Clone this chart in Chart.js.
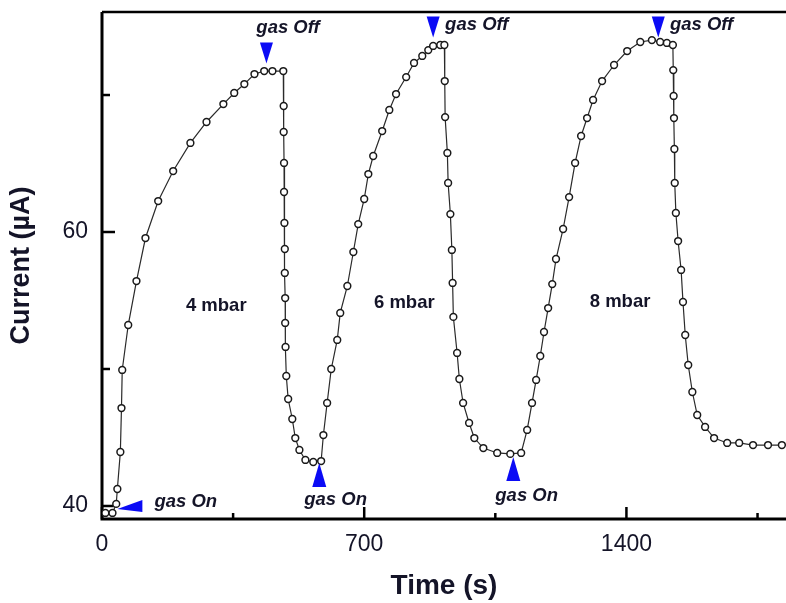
<!DOCTYPE html>
<html>
<head>
<meta charset="utf-8">
<script src="https://cdn.jsdelivr.net/npm/chart.js@4.4.1/dist/chart.umd.min.js"></script>
<style>
	html, body { margin: 0; padding: 0; background: #fff; overflow: hidden; }
	#wrap { width: 786px; height: 603px; }
	canvas { display: block; }
</style>
</head>
<body>
<div id="wrap"><canvas id="chart" width="786" height="603"></canvas></div>
<script>
// Time (s) and current (uA), three gas pulses
const timeValues = [
	9, 28, 38, 41, 49, 52, 54, 70, 92, 116, 150, 190, 236, 279, 324, 353, 380, 407, 433, 455, 484,
	485, 485, 486, 486, 487, 488, 488, 489, 489, 490, 492, 497, 508, 516, 527, 543, 564, 585,
	591, 601, 612, 628, 636, 655, 671, 684, 700, 711, 724, 748, 767, 785, 812, 833, 855, 871, 884, 903, 914,
	915, 916, 922, 924, 930, 934, 936, 938, 948, 954, 964, 980, 994, 1018, 1055, 1090, 1119,
	1135, 1148, 1159, 1170, 1180, 1191, 1202, 1212, 1231, 1247, 1263, 1279, 1295, 1311, 1335, 1367, 1402, 1437, 1468, 1490, 1508, 1524,
	1525, 1526, 1527, 1528, 1529, 1532, 1538, 1546, 1551, 1557, 1565, 1576, 1589, 1610, 1634, 1669, 1701, 1738, 1778, 1815,
];
const currentValues = [
	39.49, 39.49, 40.15, 41.24, 43.94, 47.15, 49.93, 53.21, 56.42, 59.56, 62.26, 64.45, 66.5, 68.03, 69.34, 70.15, 70.8, 71.53, 71.75, 71.75, 71.75,
	69.2, 67.3, 65.04, 62.92, 60.66, 58.76, 57.01, 55.18, 53.36, 51.61, 49.49, 47.81, 46.35, 44.96, 44.09, 43.36, 43.21, 43.28,
	45.18, 47.52, 50.0, 52.12, 54.09, 56.06, 58.54, 60.58, 62.41, 64.23, 65.55, 67.37, 68.91, 70.07, 71.31, 72.34, 72.85, 73.28, 73.58, 73.65, 73.65,
	71.02, 68.39, 65.77, 63.58, 61.31, 58.69, 56.28, 53.8, 51.17, 49.27, 47.52, 46.06, 44.96, 44.23, 43.87, 43.8, 43.87,
	45.55, 47.52, 49.2, 50.95, 52.7, 54.45, 56.2, 58.03, 60.22, 62.55, 65.04, 67.01, 68.32, 69.64, 71.02, 72.19, 73.21, 73.87, 74.01, 73.87, 73.8, 73.65,
	71.82, 69.93, 68.32, 66.06, 63.58, 61.39, 59.34, 57.23, 54.89, 52.48, 50.29, 48.32, 46.64, 45.77, 44.96, 44.6, 44.6, 44.45, 44.45, 44.45,
];

const xTicks = [0, 350, 700, 1050, 1400, 1750];
const xTickLabels = ["0", "", "700", "", "1400", ""];
const yTicks = [40, 50, 60, 70];
const yTickLabels = ["40", "", "60", ""];

// Annotations (data units)
const pressureLabels = ["4 mbar", "6 mbar", "8 mbar"];
const pressureX = [305, 807, 1383];
const pressureY = [54.6, 54.8, 54.9];

const gasOffTime = [439, 884, 1485];
const gasOffCurrent = [72.3, 74.2, 74.2];
const gasOffLabelX = [412, 916, 1516];
const gasOffLabelY = [74.9, 75.1, 75.1];

const gasOnTime = [41, 580, 1098];
const gasOnCurrent = [39.93, 43.14, 43.58];
const gasOnLabelX = [140, 540, 1050];
const gasOnLabelY = [40.29, 40.44, 40.73];

const FONT = "'Liberation Sans', Arial, sans-serif";
const TEXT = "#141428";
const BLUE = "#0b0bf5";

// drop the label overhang padding chart.js adds, so the plot box sits where we want it
function noPadding(s) {
	s.paddingTop = 0;
	s.paddingBottom = 0;
	s.paddingLeft = 0;
	s.paddingRight = 0;
}

const decorPlugin = {
	id: "decor",
	beforeDatasetsDraw(chart) {
		const { ctx, chartArea: a, scales } = chart;
		ctx.save();
		ctx.strokeStyle = "#000";
		// frame: left, bottom, top
		ctx.lineWidth = 3;
		ctx.beginPath();
		ctx.moveTo(a.left, a.top);
		ctx.lineTo(a.left, a.bottom);
		ctx.lineTo(a.right, a.bottom);
		ctx.stroke();
		ctx.lineWidth = 2.5;
		ctx.beginPath();
		ctx.moveTo(a.left, a.top);
		ctx.lineTo(a.right, a.top);
		ctx.stroke();

		// inward ticks
		ctx.lineWidth = 2.5;
		xTicks.forEach((v, i) => {
			const px = scales.x.getPixelForValue(v);
			const len = xTickLabels[i] ? 12 : 6;
			ctx.beginPath();
			ctx.moveTo(px, a.bottom);
			ctx.lineTo(px, a.bottom - len);
			ctx.stroke();
		});
		yTicks.forEach((v, i) => {
			const py = scales.y.getPixelForValue(v);
			const len = yTickLabels[i] ? 13 : 8;
			ctx.beginPath();
			ctx.moveTo(a.left, py);
			ctx.lineTo(a.left + len, py);
			ctx.stroke();
		});
		ctx.restore();
	},
	afterDatasetsDraw(chart) {
		const { ctx, scales } = chart;
		const X = (v) => scales.x.getPixelForValue(v);
		const Y = (v) => scales.y.getPixelForValue(v);
		ctx.save();
		ctx.fillStyle = BLUE;

		// gas off arrows point down onto the curve
		gasOffTime.forEach((t, i) => {
			const px = X(t), py = Y(gasOffCurrent[i]);
			ctx.beginPath();
			ctx.moveTo(px - 6.5, py - 21);
			ctx.lineTo(px + 6.5, py - 21);
			ctx.lineTo(px, py);
			ctx.closePath();
			ctx.fill();
		});
		// gas on arrows: first one points left, the others up
		gasOnTime.forEach((t, i) => {
			const px = X(t), py = Y(gasOnCurrent[i]);
			ctx.beginPath();
			if (i === 0) {
				ctx.moveTo(px, py + 2);
				ctx.lineTo(px + 25, py - 7);
				ctx.lineTo(px + 25, py + 5);
			} else {
				ctx.moveTo(px, py);
				ctx.lineTo(px + 7, py + 24);
				ctx.lineTo(px - 7, py + 24);
			}
			ctx.closePath();
			ctx.fill();
		});

		ctx.fillStyle = TEXT;
		ctx.textBaseline = "middle";
		ctx.textAlign = "left";
		ctx.font = `bold italic 18.5px ${FONT}`;
		gasOffLabelX.forEach((t, i) => ctx.fillText("gas Off", X(t), Y(gasOffLabelY[i])));
		gasOnLabelX.forEach((t, i) => ctx.fillText("gas On", X(t), Y(gasOnLabelY[i])));

		ctx.textAlign = "center";
		ctx.font = `bold 18.5px ${FONT}`;
		pressureLabels.forEach((s, i) => ctx.fillText(s, X(pressureX[i]), Y(pressureY[i])));
		ctx.restore();
	},
};

const ctx = document.getElementById("chart").getContext("2d");
new Chart(ctx, {
	type: "line",
	data: {
		datasets: [
			{
				data: timeValues.map((t, i) => ({ x: t, y: currentValues[i] })),
				borderColor: "#2a2a2a",
				borderWidth: 1.2,
				tension: 0,
				pointRadius: 3.4,
				pointBorderWidth: 1.5,
				pointBorderColor: "#1a1a1a",
				pointBackgroundColor: "#fff",
			},
		],
	},
	options: {
		responsive: false,
		animation: false,
		layout: { autoPadding: false, padding: { top: 12, right: 0, left: 0, bottom: 0 } },
		plugins: { legend: { display: false }, tooltip: { enabled: false } },
		scales: {
			x: {
				type: "linear",
				min: 0,
				max: 1826,
				afterBuildTicks: (s) => { s.ticks = xTicks.map((v) => ({ value: v })); },
				afterFit: (s) => { s.height = 84; noPadding(s); },
				grid: { display: false, drawTicks: false },
				border: { display: false },
				ticks: {
					callback: (v, i) => xTickLabels[i],
					autoSkip: false,
					maxRotation: 0,
					padding: 12,
					color: TEXT,
					font: { family: FONT, size: 23 },
				},
				title: {
					display: true,
					text: "Time (s)",
					color: TEXT,
					font: { family: FONT, size: 28, weight: "bold" },
					padding: { top: 0, bottom: 0 },
				},
			},
			y: {
				min: 39.05,
				max: 76.06,
				afterBuildTicks: (s) => { s.ticks = yTicks.map((v) => ({ value: v })); },
				afterFit: (s) => { s.width = 102; noPadding(s); },
				grid: { display: false, drawTicks: false },
				border: { display: false },
				ticks: {
					callback: (v, i) => yTickLabels[i],
					autoSkip: false,
					padding: 14,
					color: TEXT,
					font: { family: FONT, size: 23 },
				},
				title: {
					display: true,
					text: "Current (µA)",
					color: TEXT,
					font: { family: FONT, size: 27, weight: "bold" },
					padding: { top: 5, bottom: 0 },
				},
			},
		},
	},
	plugins: [decorPlugin],
});
</script>
</body>
</html>
